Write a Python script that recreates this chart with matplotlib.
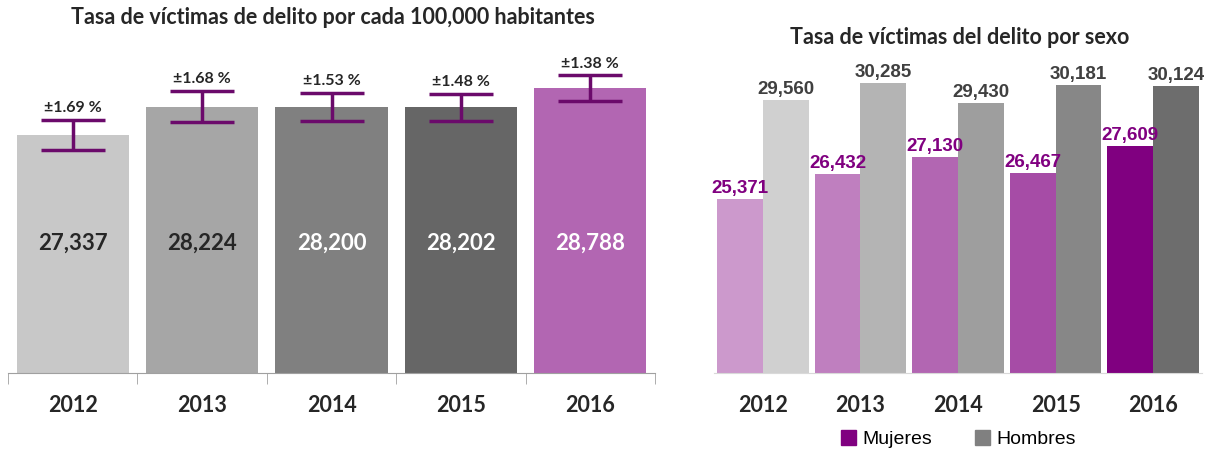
import matplotlib.pyplot as plt
from matplotlib.patches import Patch

anios = ['2012', '2013', '2014', '2015', '2016']
tasa = [27337, 28224, 28200, 28202, 28788]
error_pct = [1.69, 1.68, 1.53, 1.48, 1.38]
mujeres = [25371, 26432, 27130, 26467, 27609]
hombres = [29560, 30285, 29430, 30181, 30124]

col_tasa = ['#C8C8C8', '#A6A6A6', '#808080', '#666666', '#B266B2']
txt_tasa = ['#262626', '#262626', 'white', 'white', 'white']
col_muj = ['#CC99CC', '#BF7FBF', '#B266B2', '#A64CA6', '#800080']
col_hom = ['#D0D0D0', '#B4B4B4', '#9E9E9E', '#878787', '#6D6D6D']

titulo_font = 'Lato'
narrow = ['Liberation Sans Narrow', 'Liberation Sans', 'DejaVu Sans']

fig = plt.figure(figsize=(12.1, 4.53), dpi=100)

# ---- izquierda: tasa total con error
ax1 = fig.add_axes([8/1210, 80/453, 647/1210, 324/453])
x = range(len(anios))
ax1.bar(x, tasa, width=0.866, color=col_tasa)
err = [v * p / 100 for v, p in zip(tasa, error_pct)]
ax1.errorbar(x, tasa, yerr=err, fmt='none', ecolor='#6B0A6B', elinewidth=2.5,
             capsize=23, capthick=2.5)
for i in x:
    ax1.text(i, 24000, f'{tasa[i]:,}', ha='center', va='center', fontsize=16,
             fontweight='bold', color=txt_tasa[i], family=titulo_font)
    ax1.text(i, tasa[i] + err[i] + 150, f'±{error_pct[i]:.2f} %', ha='center', va='bottom',
             fontsize=11.5, fontweight='bold', color='#262626', family=titulo_font)
ax1.set_xlim(-0.5, 4.5)
ax1.set_ylim(20000, 30000)
ax1.set_yticks([])
ax1.set_xticks(list(x))
ax1.set_xticklabels(anios, fontsize=15.5, fontweight='bold', family=titulo_font, color='#262626')
ax1.tick_params(axis='x', length=0, pad=16)
ax1.set_xticks([i - 0.5 for i in range(6)], minor=True)
ax1.tick_params(axis='x', which='minor', length=8, color='#A0A0A0', direction='out')
for s in ['top', 'right', 'left']:
    ax1.spines[s].set_visible(False)
ax1.spines['bottom'].set_color('#A0A0A0')
fig.text(333/1210, 1 - 18/453, 'Tasa de víctimas de delito por cada 100,000 habitantes',
         ha='center', va='center', fontsize=15.5, fontweight='bold', family=titulo_font,
         color='#262626')

# ---- derecha: por sexo
ax2 = fig.add_axes([714/1210, 80/453, 488/1210, 331/453])
w = 0.47
xm = [i - w / 2 for i in x]
xh = [i + w / 2 for i in x]
ax2.bar(xm, mujeres, width=w, color=col_muj)
ax2.bar(xh, hombres, width=w, color=col_hom)
for i in x:
    ax2.text(xm[i], mujeres[i] + 80, f'{mujeres[i]:,}', ha='center', va='bottom',
             fontsize=13.5, fontweight='bold', color='#800080', family=narrow)
    ax2.text(xh[i], hombres[i] + 80, f'{hombres[i]:,}', ha='center', va='bottom',
             fontsize=13.5, fontweight='bold', color='#404040', family=narrow)
ax2.set_xlim(-0.5, 4.5)
ax2.set_ylim(18000, 32000)
ax2.set_yticks([])
ax2.set_xticks(list(x))
ax2.set_xticklabels(anios, fontsize=15.5, fontweight='bold', family=titulo_font, color='#262626')
ax2.tick_params(axis='x', length=0, pad=16)
for s in ['top', 'right', 'left']:
    ax2.spines[s].set_visible(False)
ax2.spines['bottom'].set_color('#D9D9D9')
handles = [Patch(color='#800080', label='Mujeres'), Patch(color='#808080', label='Hombres')]
ax2.legend(handles=handles, loc='center', bbox_to_anchor=(0.5, -0.2), ncol=2, frameon=False,
           prop={'family': 'Liberation Sans', 'size': 14}, handlelength=0.8, handleheight=0.8,
           handletextpad=0.3, columnspacing=2.2)
fig.text(960/1210, 1 - 37/453, 'Tasa de víctimas del delito por sexo',
         ha='center', va='center', fontsize=15.5, fontweight='bold', family=titulo_font,
         color='#262626')

fig.savefig('out.png', dpi=100)
